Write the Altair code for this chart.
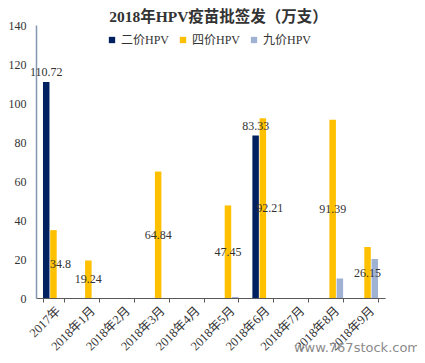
import altair as alt
import pandas as pd

months = ["2017年", "2018年1月", "2018年2月", "2018年3月", "2018年4月",
          "2018年5月", "2018年6月", "2018年7月", "2018年8月", "2018年9月"]
bivalent = [110.72, 0, 0, 0, 0, 0, 83.33, 0, 0, 0]
quadrivalent = [34.8, 19.24, 0, 64.84, 0, 47.45, 92.21, 0, 91.39, 26.15]
nonavalent = [0, 0, 0, 0, 0, 0.5, 0, 0, 10, 20]
series_names = ["二价HPV", "四价HPV", "九价HPV"]
colors = ["#002060", "#FFC000", "#9FB2D3"]
ticks_y = [0, 20, 40, 60, 80, 100, 120, 140]

rows = []
for i, m in enumerate(months):
    for s, vals in zip(series_names, [bivalent, quadrivalent, nonavalent]):
        rows.append({"month": m, "series": s, "value": vals[i]})
df = pd.DataFrame(rows)

FONT = "Liberation Serif, Noto Sans CJK SC"

y_axis = alt.Axis(title=None, values=ticks_y, grid=False, ticks=False,
                  tickSize=0, domainColor="#8496B0", domainWidth=1.5,
                  labelFont=FONT, labelFontSize=12, labelColor="#333333",
                  labelPadding=10, labelOverlap=False)
y_scale = alt.Scale(domain=[0, 140], nice=False)

x_enc = alt.X("month:N", sort=months,
              scale=alt.Scale(domain=months, paddingInner=0.4, paddingOuter=0.2),
              axis=alt.Axis(title=None, labelAngle=-45, tickBand="extent",
                            tickSize=4, tickColor="#595959", domainColor="#595959",
                            domainWidth=1.2, labelFont=FONT, labelFontSize=12.5,
                            labelColor="#333333", labelPadding=2, labelOverlap=False))
xo_enc = alt.XOffset("series:N", sort=series_names,
                     scale=alt.Scale(domain=series_names, paddingInner=0.1, paddingOuter=0))

bars = alt.Chart(df).mark_bar().encode(
    x=x_enc, xOffset=xo_enc,
    y=alt.Y("value:Q", scale=y_scale, axis=y_axis),
    color=alt.Color("series:N", sort=series_names,
                    scale=alt.Scale(domain=series_names, range=colors),
                    legend=alt.Legend(title=None, orient="none", legendX=70, legendY=9,
                                      direction="horizontal", symbolType="square",
                                      symbolSize=40, symbolStrokeWidth=0,
                                      labelFont=FONT, labelFontSize=12,
                                      labelColor="#333333", columnPadding=7,
                                      labelOffset=3)),
)

xl = alt.X("month:N", sort=months)
xol = alt.XOffset("series:N", sort=series_names)

base_lab = alt.Chart(df).transform_calculate(
    navy_val="datum.series == '二价HPV' ? datum.value : 0"
).transform_joinaggregate(
    has_navy="max(navy_val)", groupby=["month"]
).transform_filter("datum.value > 1")

navy_lab = base_lab.transform_filter("datum.series == '二价HPV'").mark_text(
    font=FONT, fontSize=12, color="#333333", baseline="bottom", dy=-3
).encode(x=xl, xOffset=xol, y=alt.Y("value:Q", scale=y_scale, axis=y_axis),
         text=alt.Text("value:Q"))

yel = base_lab.transform_filter("datum.series == '四价HPV'").transform_calculate(
    mid="datum.value / 2"
)
yel_lab_a = yel.transform_filter("datum.has_navy == 0").mark_text(
    font=FONT, fontSize=12, color="#333333", baseline="middle"
).encode(x=xl, xOffset=xol, y=alt.Y("mid:Q", scale=y_scale, axis=y_axis),
         text=alt.Text("value:Q"))
yel_lab_b = yel.transform_filter("datum.has_navy > 0").mark_text(
    font=FONT, fontSize=12, color="#333333", baseline="middle", dx=7
).encode(x=xl, xOffset=xol, y=alt.Y("mid:Q", scale=y_scale, axis=y_axis),
         text=alt.Text("value:Q"))

wm = alt.Chart(pd.DataFrame({"t": ["www.767stock.com"]})).mark_text(
    font="DejaVu Sans", fontSize=13, color="#8a8a8a", align="center", baseline="middle"
).encode(text="t:N", x=alt.value(321), y=alt.value(323))

chart = alt.layer(bars, navy_lab, yel_lab_a, yel_lab_b, wm).properties(
    width=349, height=273,
    title=alt.TitleParams("2018年HPV疫苗批签发（万支）", font=FONT, fontSize=15.5,
                          fontWeight="bold", color="#333333", anchor="middle",
                          frame="group", dx=8, offset=-6),
    autosize=alt.AutoSizeParams(type="none"),
    padding={"left": 28, "top": 17, "right": 32, "bottom": 62},
).configure_view(stroke=None).configure_axisY(labelOverlap=False)

chart.save("out.html", embed_options={"renderer": "svg", "actions": False})
